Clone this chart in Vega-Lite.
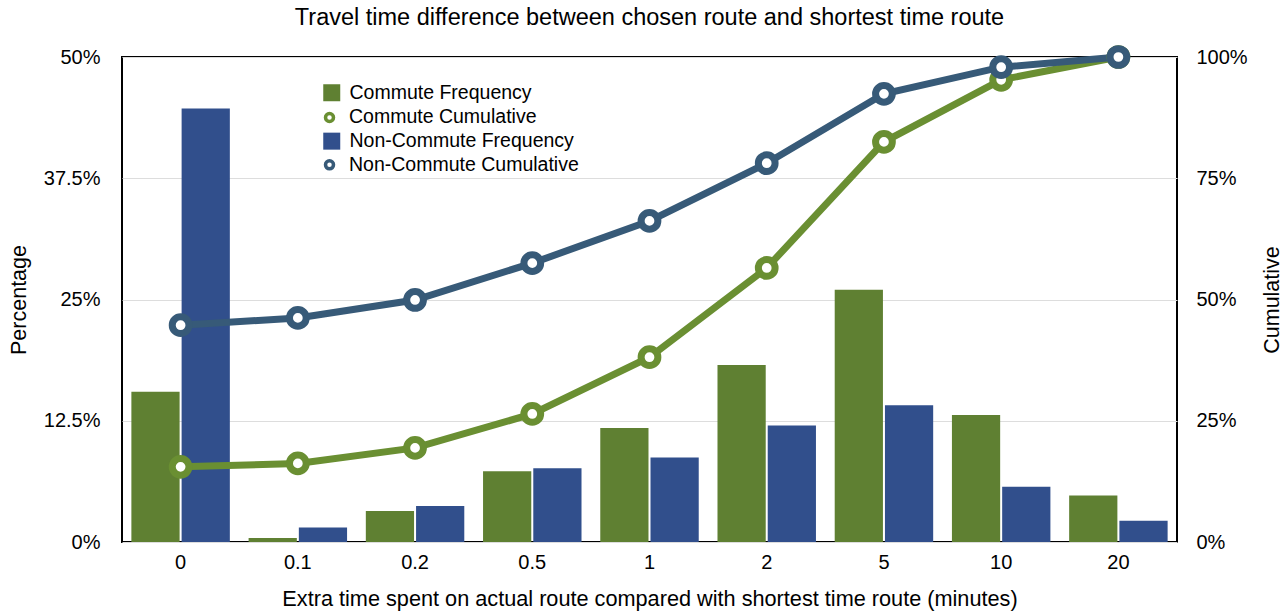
{
  "$schema": "https://vega.github.io/schema/vega-lite/v6.json",
  "autosize": {"type": "none"},
  "width": 1055,
  "height": 485,
  "padding": {"left": 122, "top": 57, "right": 110, "bottom": 69},
  "config": {
    "font": "Liberation Sans",
    "view": {"stroke": "black", "strokeWidth": 2},
    "axis": {"labelFont": "Liberation Sans", "titleFont": "Liberation Sans", "labelColor": "black", "titleColor": "black", "labelFontSize": 20, "titleFontSize": 21.5, "titleFontWeight": "normal", "ticks": false, "domain": false},
    "legend": {"labelFont": "Liberation Sans", "labelColor": "black", "labelFontSize": 19.5, "labelLimit": 0},
    "title": {"font": "Liberation Sans", "fontSize": 23.5, "fontWeight": "normal", "color": "black"}
  },
  "title": {"text": "Travel time difference between chosen route and shortest time route", "anchor": "middle", "offset": 5},
  "data": {
    "values": [
      {"t": "0", "series": "Commute Frequency", "kind": "freq", "v": 0.155},
      {"t": "0", "series": "Non-Commute Frequency", "kind": "freq", "v": 0.447},
      {"t": "0.1", "series": "Commute Frequency", "kind": "freq", "v": 0.004},
      {"t": "0.1", "series": "Non-Commute Frequency", "kind": "freq", "v": 0.015},
      {"t": "0.2", "series": "Commute Frequency", "kind": "freq", "v": 0.032},
      {"t": "0.2", "series": "Non-Commute Frequency", "kind": "freq", "v": 0.037},
      {"t": "0.5", "series": "Commute Frequency", "kind": "freq", "v": 0.073},
      {"t": "0.5", "series": "Non-Commute Frequency", "kind": "freq", "v": 0.076},
      {"t": "1", "series": "Commute Frequency", "kind": "freq", "v": 0.1175},
      {"t": "1", "series": "Non-Commute Frequency", "kind": "freq", "v": 0.087},
      {"t": "2", "series": "Commute Frequency", "kind": "freq", "v": 0.1825},
      {"t": "2", "series": "Non-Commute Frequency", "kind": "freq", "v": 0.12},
      {"t": "5", "series": "Commute Frequency", "kind": "freq", "v": 0.26},
      {"t": "5", "series": "Non-Commute Frequency", "kind": "freq", "v": 0.141},
      {"t": "10", "series": "Commute Frequency", "kind": "freq", "v": 0.131},
      {"t": "10", "series": "Non-Commute Frequency", "kind": "freq", "v": 0.057},
      {"t": "20", "series": "Commute Frequency", "kind": "freq", "v": 0.048},
      {"t": "20", "series": "Non-Commute Frequency", "kind": "freq", "v": 0.022},
      {"t": "0", "series": "Commute Cumulative", "kind": "cum", "v": 0.155},
      {"t": "0.1", "series": "Commute Cumulative", "kind": "cum", "v": 0.162},
      {"t": "0.2", "series": "Commute Cumulative", "kind": "cum", "v": 0.194},
      {"t": "0.5", "series": "Commute Cumulative", "kind": "cum", "v": 0.264},
      {"t": "1", "series": "Commute Cumulative", "kind": "cum", "v": 0.381},
      {"t": "2", "series": "Commute Cumulative", "kind": "cum", "v": 0.565},
      {"t": "5", "series": "Commute Cumulative", "kind": "cum", "v": 0.825},
      {"t": "10", "series": "Commute Cumulative", "kind": "cum", "v": 0.953},
      {"t": "20", "series": "Commute Cumulative", "kind": "cum", "v": 1.0},
      {"t": "0", "series": "Non-Commute Cumulative", "kind": "cum", "v": 0.447},
      {"t": "0.1", "series": "Non-Commute Cumulative", "kind": "cum", "v": 0.462},
      {"t": "0.2", "series": "Non-Commute Cumulative", "kind": "cum", "v": 0.499},
      {"t": "0.5", "series": "Non-Commute Cumulative", "kind": "cum", "v": 0.575},
      {"t": "1", "series": "Non-Commute Cumulative", "kind": "cum", "v": 0.662},
      {"t": "2", "series": "Non-Commute Cumulative", "kind": "cum", "v": 0.781},
      {"t": "5", "series": "Non-Commute Cumulative", "kind": "cum", "v": 0.924},
      {"t": "10", "series": "Non-Commute Cumulative", "kind": "cum", "v": 0.979},
      {"t": "20", "series": "Non-Commute Cumulative", "kind": "cum", "v": 1.0}
    ]
  },
  "encoding": {
    "x": {
      "field": "t", "type": "ordinal",
      "sort": ["0", "0.1", "0.2", "0.5", "1", "2", "5", "10", "20"],
      "scale": {"paddingInner": 0.16, "paddingOuter": 0.08},
      "axis": {"title": "Extra time spent on actual route compared with shortest time route (minutes)", "titleFontSize": 21.7, "labelAngle": 0, "labelPadding": 10, "titlePadding": 16}
    }
  },
  "layer": [
    {
      "transform": [{"filter": "datum.kind === 'freq'"}],
      "mark": {"type": "bar", "opacity": 1},
      "encoding": {
        "xOffset": {"field": "series", "type": "nominal", "scale": {"paddingInner": 0.04}},
        "y": {
          "field": "v", "type": "quantitative",
          "scale": {"domain": [0, 0.5]},
          "axis": {"title": "Percentage", "values": [0, 0.125, 0.25, 0.375, 0.5], "format": ".1~%", "labelPadding": 22, "titlePadding": 13, "grid": true, "gridColor": "#dddddd", "gridWidth": 1}
        },
        "fill": {
          "field": "series", "type": "nominal",
          "scale": {"domain": ["Commute Frequency", "Non-Commute Frequency"], "range": ["#5f8032", "#314f8c"]},
          "legend": {"title": null, "orient": "none", "legendX": 200, "legendY": 26, "symbolType": "square", "symbolSize": 289, "symbolStrokeWidth": 0, "labelOffset": 8, "rowPadding": 27.4}
        }
      }
    },
    {
      "transform": [{"filter": "datum.kind === 'cum'"}],
      "encoding": {
        "y": {
          "field": "v", "type": "quantitative",
          "scale": {"domain": [0, 1]},
          "axis": {"title": "Cumulative", "orient": "right", "values": [0, 0.25, 0.5, 0.75, 1], "format": "~%", "labelPadding": 19, "titlePadding": 36, "titleAngle": 270, "grid": false}
        },
        "stroke": {
          "field": "series", "type": "nominal",
          "scale": {"domain": ["Commute Cumulative", "Non-Commute Cumulative"], "range": ["#6a8f32", "#375a78"]},
          "legend": {"title": null, "orient": "none", "legendX": 197.75, "legendY": 50.7, "symbolType": "circle", "symbolSize": 64, "symbolStrokeWidth": 3.5, "symbolFillColor": "white", "labelOffset": 9.75, "rowPadding": 24.4}
        }
      },
      "layer": [
        {"mark": {"type": "line", "strokeWidth": 7}},
        {"mark": {"type": "point", "filled": false, "fill": "white", "fillOpacity": 1, "opacity": 1, "strokeWidth": 7, "size": 280}}
      ]
    }
  ],
  "resolve": {"scale": {"y": "independent"}}
}
